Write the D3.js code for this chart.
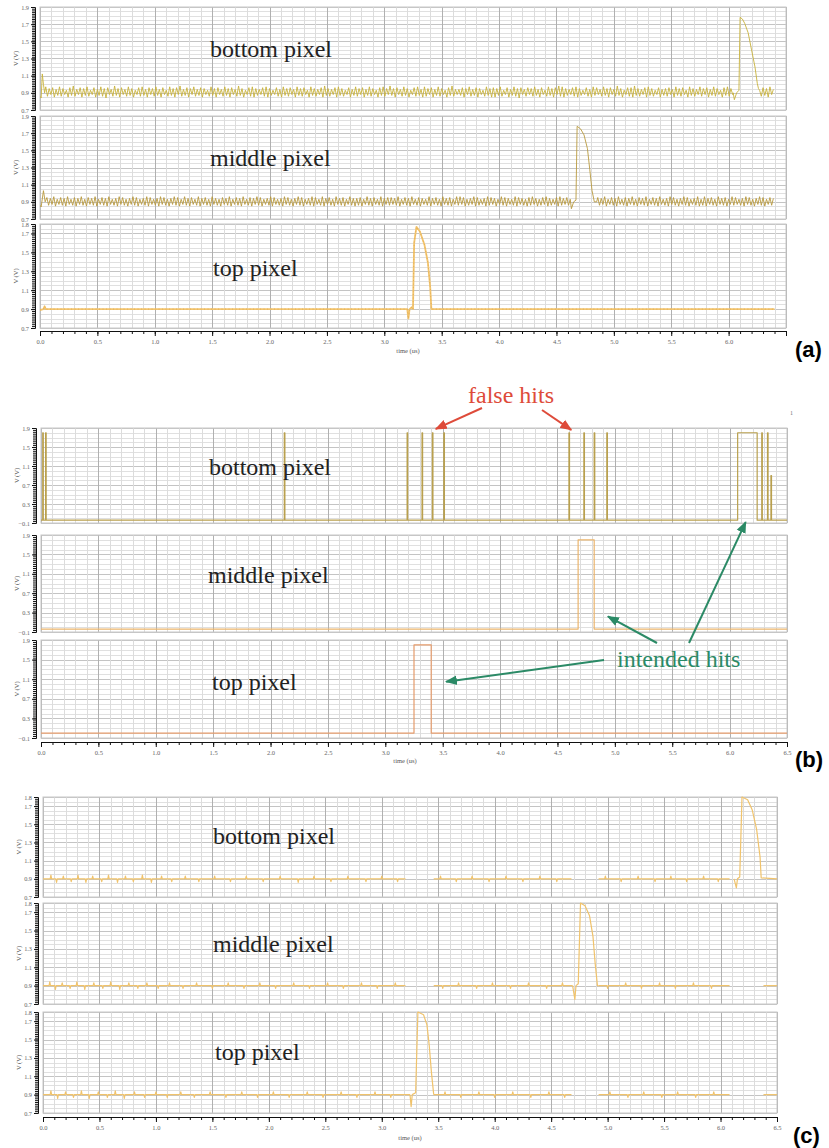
<!DOCTYPE html>
<html>
<head>
<meta charset="utf-8">
<script src="https://cdn.jsdelivr.net/npm/d3@7"></script>
<style>
body { margin: 0; background: #fff; }
svg { display: block; }
.domain { stroke: #111; }
.tick line { stroke: #111; }
</style>
</head>
<body>
<svg id="chart" width="829" height="1148"></svg>
<script>
// ---- data ----
var xTickVals = [0, 0.5, 1, 1.5, 2, 2.5, 3, 3.5, 4, 4.5, 5, 5.5, 6, 6.5];
var xTickLabelsA = ["0.0","0.5","1.0","1.5","2.0","2.5","3.0","3.5","4.0","4.5","5.0","5.5","6.0",""];
var xTickLabels = ["0.0","0.5","1.0","1.5","2.0","2.5","3.0","3.5","4.0","4.5","5.0","5.5","6.0","6.5"];
var yLabels19 = [0.7, 0.9, 1.1, 1.3, 1.5, 1.7, 1.9];
var yLabels18 = [0.7, 0.9, 1.1, 1.3, 1.5, 1.7, 1.8];
var yLabelsB = [-0.1, 0.3, 0.7, 1.1, 1.5, 1.9];
var titles = ["bottom pixel", "middle pixel", "top pixel"];

// (a) bottom pixel: start spike, ringing sampled every 0.015 us from 0.05 us, pulse, tail
var noiseStep = 0.015;
var aBotHead = [[0, 0.86], [0.01, 0.84], [0.02, 1.12], [0.03, 1.0], [0.04, 0.9]];
var aBotNoise = [
  0.97,0.86,0.95,0.88,0.96,0.85,0.94,0.87,0.97,0.86,0.95,0.88,0.93,0.85,0.96,0.87,0.98,0.86,0.94,0.88,
  0.96,0.85,0.95,0.87,0.97,0.86,0.93,0.88,0.96,0.85,0.94,0.87,0.97,0.86,0.95,0.84,0.96,0.88,0.94,0.86,
  0.98,0.87,0.95,0.85,0.96,0.88,0.94,0.86,0.97,0.87,0.95,0.85,0.93,0.88,0.96,0.86,0.97,0.87,0.94,0.85,
  0.96,0.88,0.95,0.86,0.97,0.87,0.94,0.85,0.96,0.88,0.93,0.86,0.97,0.87,0.95,0.85,0.96,0.88,0.98,0.86,
  0.94,0.87,0.96,0.85,0.95,0.88,0.97,0.86,0.94,0.87,0.96,0.85,0.95,0.88,0.93,0.86,0.97,0.87,0.95,0.85,
  0.96,0.88,0.94,0.86,0.97,0.87,0.95,0.85,0.96,0.88,0.94,0.86,0.98,0.87,0.95,0.85,0.93,0.88,0.96,0.86,
  0.97,0.85,0.95,0.87,0.94,0.88,0.96,0.86,0.97,0.85,0.95,0.87,0.93,0.88,0.96,0.86,0.94,0.85,0.97,0.87,
  0.95,0.86,0.96,0.88,0.94,0.85,0.97,0.87,0.95,0.86,0.96,0.88,0.93,0.85,0.97,0.87,0.95,0.86,0.94,0.88,
  0.96,0.85,0.98,0.87,0.95,0.86,0.94,0.88,0.96,0.85,0.97,0.87,0.95,0.86,0.93,0.88,0.96,0.85,0.94,0.87,
  0.97,0.86,0.95,0.88,0.96,0.85,0.94,0.87,0.97,0.86,0.95,0.88,0.93,0.85,0.96,0.87,0.97,0.86,0.95,0.88,
  0.98,0.87,0.95,0.85,0.96,0.88,0.94,0.86,0.97,0.87,0.95,0.85,0.93,0.88,0.96,0.86,0.97,0.87,0.94,0.85,
  0.97,0.86,0.95,0.88,0.96,0.85,0.94,0.87,0.97,0.86,0.95,0.88,0.93,0.85,0.96,0.87,0.98,0.86,0.94,0.88,
  0.94,0.87,0.96,0.85,0.95,0.88,0.97,0.86,0.94,0.87,0.96,0.85,0.95,0.88,0.93,0.86,0.97,0.87,0.95,0.85,
  0.96,0.85,0.95,0.87,0.97,0.86,0.93,0.88,0.96,0.85,0.94,0.87,0.97,0.86,0.95,0.84,0.96,0.88,0.94,0.86,
  0.96,0.88,0.95,0.86,0.97,0.87,0.94,0.85,0.96,0.88,0.93,0.86,0.97,0.87,0.95,0.85,0.96,0.88,0.98,0.86,
  0.97,0.85,0.95,0.87,0.94,0.88,0.96,0.86,0.97,0.85,0.95,0.87,0.93,0.88,0.96,0.86,0.94,0.85,0.97,0.87,
  0.96,0.88,0.94,0.86,0.97,0.87,0.95,0.85,0.96,0.88,0.94,0.86,0.98,0.87,0.95,0.85,0.93,0.88,0.96,0.86,
  0.96,0.85,0.98,0.87,0.95,0.86,0.94,0.88,0.96,0.85,0.97,0.87,0.95,0.86,0.93,0.88,0.96,0.85,0.94,0.87,
  0.95,0.86,0.96,0.88,0.94,0.85,0.97,0.87,0.95,0.86,0.96,0.88,0.93,0.85,0.97,0.87,0.95,0.86,0.94,0.88,
  0.97,0.86,0.95,0.88,0.96,0.85,0.94,0.87,0.97,0.86,0.95,0.88,0.93,0.85,0.96,0.87,0.97,0.86,0.95,0.88
];
var aBotNoiseStart = 0.05;
var aBotPulse = [[6.04, 0.9], [6.05, 0.82], [6.07, 0.9], [6.09, 0.93], [6.10, 1.78], [6.12, 1.76],
  [6.14, 1.71], [6.17, 1.6], [6.20, 1.4], [6.23, 1.2], [6.25, 1.01], [6.26, 0.95]];
var aBotTail = [0.93, 0.86, 0.96, 0.87, 0.95, 0.85, 0.97, 0.88, 0.94];
var aBotTailStart = 6.27;

// (a) middle pixel
var aMidHead = [[0, 0.86], [0.01, 0.84], [0.03, 1.03], [0.045, 0.9]];
var aMidNoise = [
  0.95,0.86,0.94,0.87,0.96,0.85,0.93,0.87,0.95,0.86,0.94,0.85,0.96,0.87,0.93,0.86,0.95,0.85,0.94,0.87,
  0.96,0.86,0.93,0.85,0.95,0.87,0.94,0.86,0.96,0.85,0.93,0.87,0.95,0.86,0.94,0.85,0.96,0.87,0.93,0.86,
  0.94,0.85,0.96,0.87,0.95,0.86,0.93,0.85,0.94,0.87,0.96,0.86,0.95,0.85,0.93,0.87,0.94,0.86,0.96,0.85,
  0.95,0.87,0.93,0.86,0.94,0.85,0.96,0.87,0.95,0.86,0.93,0.85,0.94,0.87,0.96,0.86,0.95,0.85,0.93,0.87,
  0.96,0.86,0.94,0.85,0.95,0.87,0.93,0.86,0.96,0.85,0.94,0.87,0.95,0.86,0.93,0.85,0.96,0.87,0.94,0.86,
  0.93,0.85,0.95,0.87,0.94,0.86,0.96,0.85,0.93,0.87,0.95,0.86,0.94,0.85,0.96,0.87,0.93,0.86,0.95,0.85,
  0.94,0.87,0.96,0.86,0.95,0.85,0.93,0.87,0.94,0.86,0.96,0.85,0.95,0.87,0.93,0.86,0.94,0.85,0.96,0.87,
  0.95,0.86,0.93,0.85,0.94,0.87,0.96,0.86,0.95,0.85,0.93,0.87,0.94,0.86,0.96,0.85,0.95,0.87,0.93,0.86,
  0.96,0.85,0.94,0.87,0.95,0.86,0.93,0.85,0.96,0.87,0.94,0.86,0.95,0.85,0.93,0.87,0.96,0.86,0.94,0.85,
  0.94,0.86,0.95,0.85,0.93,0.87,0.96,0.86,0.94,0.85,0.95,0.87,0.93,0.86,0.96,0.85,0.94,0.87,0.95,0.86,
  0.95,0.87,0.94,0.86,0.96,0.85,0.93,0.87,0.95,0.86,0.94,0.85,0.96,0.87,0.93,0.86,0.95,0.85,0.94,0.87,
  0.93,0.86,0.96,0.85,0.94,0.87,0.95,0.86,0.93,0.85,0.96,0.87,0.94,0.86,0.95,0.85,0.93,0.87,0.96,0.86,
  0.96,0.87,0.95,0.85,0.93,0.86,0.94,0.87,0.96,0.85,0.95,0.86,0.93,0.87,0.94,0.85,0.96,0.86,0.95,0.87,
  0.94,0.85,0.93,0.87,0.96,0.86,0.95,0.85,0.94,0.87,0.93,0.86,0.96,0.85,0.95,0.87,0.94,0.86,0.93,0.85,
  0.95,0.86,0.96,0.87,0.94,0.85,0.93,0.86,0.95,0.87,0.96,0.85,0.94,0.86,0.93,0.87,0.95,0.85,0.96,0.86,
  0.94,0.87,0.95,0.86,0.93
];
var aMidNoiseStart = 0.06;
var aMidPulse = [[4.63, 0.82], [4.65, 0.9], [4.67, 0.92], [4.68, 1.78], [4.71, 1.75], [4.74, 1.68],
  [4.77, 1.52], [4.79, 1.28], [4.81, 1.03], [4.83, 0.9], [4.85, 0.9]];
var aMidTail = [
  0.95,0.86,0.94,0.87,0.96,0.85,0.93,0.87,0.95,0.86,0.94,0.85,0.96,0.87,0.93,0.86,0.95,0.85,0.94,0.87,
  0.96,0.86,0.93,0.85,0.95,0.87,0.94,0.86,0.96,0.85,0.93,0.87,0.95,0.86,0.94,0.85,0.96,0.87,0.93,0.86,
  0.94,0.85,0.96,0.87,0.95,0.86,0.93,0.85,0.94,0.87,0.96,0.86,0.95,0.85,0.93,0.87,0.94,0.86,0.96,0.85,
  0.93,0.86,0.96,0.85,0.94,0.87,0.95,0.86,0.93,0.85,0.96,0.87,0.94,0.86,0.95,0.85,0.93,0.87,0.96,0.86,
  0.95,0.87,0.93,0.86,0.94,0.85,0.96,0.87,0.95,0.86,0.93,0.85,0.94,0.87,0.96,0.86,0.95,0.85,0.93,0.87,
  0.95,0.86,0.94
];
var aMidTailStart = 4.86;

// (a) top pixel
var aTop = [[0, 0.89], [0.03, 0.9], [0.04, 0.93], [0.05, 0.9], [3.20, 0.9], [3.21, 0.8], [3.22, 0.9],
  [3.24, 0.92], [3.25, 0.9], [3.26, 1.6], [3.28, 1.77], [3.31, 1.72], [3.35, 1.58], [3.38, 1.39],
  [3.40, 1.13], [3.41, 0.9], [6.4, 0.9]];

// (b) digital outputs: [rise, fall, level]
var bLow = -0.04;
var bBotPulses = [[0.015, 0.02, 1.8], [0.04, 0.045, 1.8], [2.12, 2.125, 1.8], [3.19, 3.195, 1.8],
  [3.32, 3.325, 1.8], [3.41, 3.415, 1.8], [3.51, 3.515, 1.8], [4.60, 4.605, 1.8], [4.73, 4.735, 1.8],
  [4.82, 4.825, 1.8], [4.93, 4.935, 1.8], [6.07, 6.24, 1.8], [6.28, 6.285, 1.8], [6.33, 6.335, 1.8],
  [6.36, 6.365, 0.9]];
var bMidPulses = [[4.68, 4.82, 1.8]];
var bTopPulses = [[3.25, 3.40, 1.8]];

// (c) baseline segments, glitches [t, v] and pulses
var cBotSegs = [[0, 3.21], [3.46, 4.68], [4.92, 6.08]];
var cMidSegs = [[0, 3.21], [3.46, 4.69], [4.92, 6.08], [6.38, 6.5]];
var cTopSegs = [[0, 3.25], [3.46, 4.68], [4.92, 6.08], [6.38, 6.5]];
var cBotGlitch = [[0.07,0.94],[0.12,0.86],[0.18,0.93],[0.25,0.87],[0.31,0.94],[0.38,0.86],[0.44,0.93],
  [0.52,0.87],[0.58,0.94],[0.66,0.86],[0.73,0.93],[0.80,0.87],[0.88,0.94],[0.96,0.86],[1.05,0.93],
  [1.14,0.87],[1.26,0.93],[1.38,0.87],[1.52,0.93],[1.66,0.87],[1.80,0.93],[1.95,0.87],[2.10,0.93],
  [2.26,0.86],[2.40,0.93],[2.55,0.87],[2.70,0.93],[2.86,0.87],[3.00,0.93],[3.14,0.87],[3.52,0.93],
  [3.66,0.87],[3.80,0.93],[3.95,0.87],[4.10,0.93],[4.25,0.87],[4.40,0.93],[4.55,0.87],[4.98,0.93],
  [5.12,0.87],[5.27,0.93],[5.42,0.87],[5.56,0.93],[5.70,0.87],[5.85,0.93],[5.98,0.87]];
var cMidGlitch = [[0.06,0.94],[0.11,0.86],[0.17,0.93],[0.24,0.87],[0.30,0.94],[0.37,0.86],[0.45,0.93],
  [0.53,0.87],[0.60,0.94],[0.68,0.86],[0.76,0.93],[0.84,0.87],[0.92,0.93],[1.02,0.87],[1.12,0.93],
  [1.24,0.87],[1.36,0.93],[1.50,0.87],[1.64,0.93],[1.78,0.87],[1.92,0.93],[2.06,0.87],[2.22,0.93],
  [2.36,0.87],[2.52,0.93],[2.66,0.87],[2.82,0.93],[2.96,0.87],[3.12,0.93],[3.54,0.87],[3.68,0.93],
  [3.84,0.87],[3.98,0.93],[4.14,0.87],[4.30,0.93],[4.46,0.87],[4.60,0.93],[5.00,0.87],[5.16,0.93],
  [5.30,0.87],[5.46,0.93],[5.60,0.87],[5.76,0.93],[5.92,0.87]];
var cTopGlitch = [[0.07,0.94],[0.13,0.86],[0.20,0.93],[0.27,0.87],[0.34,0.94],[0.41,0.86],[0.49,0.93],
  [0.57,0.87],[0.64,0.94],[0.72,0.86],[0.81,0.93],[0.90,0.87],[1.00,0.93],[1.10,0.87],[1.22,0.93],
  [1.34,0.87],[1.48,0.93],[1.62,0.87],[1.76,0.93],[1.90,0.87],[2.04,0.93],[2.18,0.87],[2.34,0.93],
  [2.48,0.87],[2.64,0.93],[2.78,0.87],[2.94,0.93],[3.08,0.87],[3.56,0.93],[3.70,0.87],[3.86,0.93],
  [4.00,0.87],[4.16,0.93],[4.32,0.87],[4.48,0.93],[4.62,0.87],[5.02,0.93],[5.18,0.87],[5.32,0.93],
  [5.48,0.87],[5.62,0.93],[5.78,0.87],[5.94,0.93]];
var cBotPulse = [[6.12, 0.9], [6.14, 0.80], [6.15, 0.9], [6.17, 0.92], [6.19, 1.8], [6.24, 1.77],
  [6.28, 1.66], [6.32, 1.44], [6.35, 1.14], [6.36, 0.91], [6.5, 0.9]];
var cMidPulse = [[4.69, 0.9], [4.71, 0.75], [4.72, 0.9], [4.74, 0.92], [4.76, 1.8], [4.80, 1.77],
  [4.84, 1.66], [4.87, 1.44], [4.89, 1.14], [4.91, 0.9], [4.92, 0.9]];
var cTopPulse = [[3.25, 0.9], [3.26, 0.77], [3.27, 0.9], [3.30, 0.92], [3.32, 1.8], [3.37, 1.77],
  [3.40, 1.66], [3.42, 1.44], [3.44, 1.14], [3.46, 0.9]];

// ---- build point lists ----
function sampled(start, step, vals) {
  return vals.map(function (v, i) { return [start + i * step, v]; });
}
function steps(pulses, low) {
  var pts = [[0, low]];
  pulses.forEach(function (p) {
    pts.push([p[0], low], [p[0], p[2]], [p[1], p[2]], [p[1], low]);
  });
  pts.push([6.5, low]);
  return pts;
}
function baseline(segs, glitches) {
  return segs.map(function (s) {
    var pts = [[s[0], 0.9]];
    glitches.filter(function (g) { return g[0] > s[0] && g[0] < s[1]; }).forEach(function (g) {
      pts.push([g[0] - 0.006, 0.9], [g[0], g[1]], [g[0] + 0.006, 0.9]);
    });
    pts.push([s[1], 0.9]);
    return pts;
  });
}

var aBotPts = aBotHead.concat(sampled(aBotNoiseStart, noiseStep, aBotNoise), aBotPulse,
  sampled(aBotTailStart, noiseStep, aBotTail));
var aMidPts = aMidHead.concat(sampled(aMidNoiseStart, noiseStep, aMidNoise), aMidPulse,
  sampled(aMidTailStart, noiseStep, aMidTail));

var panels = [
  { tag: "(a)", tagX: 795, tagY: 357, left: 40, right: 786, hStep: 0.05, rStep: 0.02,
    axisY: 331, timeX: 408, timeY: 353, xLabels: xTickLabelsA,
    subs: [
      { top: 7, bottom: 110, domain: [0.7, 1.9], labels: yLabels19, titleX: 210, titleY: 57,
        paths: [aBotPts], color: "#c8b23c", w: 0.9 },
      { top: 116, bottom: 219, domain: [0.7, 1.9], labels: yLabels19, titleX: 210, titleY: 166,
        paths: [aMidPts], color: "#b99a3e", w: 0.9 },
      { top: 224, bottom: 328, domain: [0.7, 1.8], labels: yLabels18, titleX: 213, titleY: 276,
        paths: [aTop], color: "#f2c46e", w: 1.8, dots: true }
    ] },
  { tag: "(b)", tagX: 795, tagY: 767, left: 41, right: 787, hStep: 0.1, rStep: 0.04,
    axisY: 742, timeX: 405, timeY: 763, xLabels: xTickLabels,
    subs: [
      { top: 428, bottom: 523, domain: [-0.1, 1.9], labels: yLabelsB, titleX: 209, titleY: 475,
        paths: [steps(bBotPulses, bLow)], color: "#b9a04e", w: 1.2 },
      { top: 535, bottom: 632, domain: [-0.1, 1.9], labels: yLabelsB, titleX: 208, titleY: 583,
        paths: [steps(bMidPulses, bLow)], color: "#ebb56c", w: 1.2 },
      { top: 640, bottom: 738, domain: [-0.1, 1.9], labels: yLabelsB, titleX: 212, titleY: 690,
        paths: [steps(bTopPulses, 0)], color: "#e59c6c", w: 1.2 }
    ] },
  { tag: "(c)", tagX: 793, tagY: 1143, left: 43, right: 777, hStep: 0.05, rStep: 0.02,
    axisY: 1117, timeX: 410, timeY: 1140, xLabels: xTickLabels,
    subs: [
      { top: 797, bottom: 897, domain: [0.7, 1.8], labels: yLabels18, titleX: 213, titleY: 844,
        paths: baseline(cBotSegs, cBotGlitch).concat([cBotPulse]), color: "#f0c36c", w: 1.2 },
      { top: 903, bottom: 1004, domain: [0.7, 1.8], labels: yLabels18, titleX: 213, titleY: 952,
        paths: baseline(cMidSegs, cMidGlitch).concat([cMidPulse]), color: "#f0c36c", w: 1.2 },
      { top: 1012, bottom: 1113, domain: [0.7, 1.8], labels: yLabels18, titleX: 215, titleY: 1060,
        paths: baseline(cTopSegs, cTopGlitch).concat([cTopPulse]), color: "#f0c36c", w: 1.2 }
    ] }
];

var svg = d3.select("#chart");
var defs = svg.append("defs");
var scalesB = {};

panels.forEach(function (p, pi) {
  var x = d3.scaleLinear().domain([0, 6.5]).range([p.left, p.right]);
  var vx = d3.range(0, 66).map(function (i) { return i / 10; });

  p.subs.forEach(function (s, k) {
    var y = d3.scaleLinear().domain(s.domain).range([s.bottom, s.top]);
    if (pi === 1) scalesB[k] = { x: x, y: y };
    var g = svg.append("g");
    var nH = Math.round((s.domain[1] - s.domain[0]) / p.hStep);
    var hy = d3.range(0, nH + 1).map(function (i) { return s.domain[0] + i * p.hStep; });

    g.append("g").selectAll("line").data(hy).enter().append("line")
      .attr("x1", p.left).attr("x2", p.right)
      .attr("y1", function (d) { return Math.round(y(d)) + 0.5; })
      .attr("y2", function (d) { return Math.round(y(d)) + 0.5; })
      .attr("stroke", function (d) {
        return s.labels.some(function (l) { return Math.abs(l - d) < 1e-6; }) ? "#c4c4c4" : "#e0e0e0";
      });
    g.append("g").selectAll("line").data(vx).enter().append("line")
      .attr("x1", function (d) { return Math.round(x(d)) + 0.5; })
      .attr("x2", function (d) { return Math.round(x(d)) + 0.5; })
      .attr("y1", s.top).attr("y2", s.bottom)
      .attr("stroke", function (d, i) { return i % 5 === 0 ? "#b0b0b0" : "#dcdcdc"; });
    g.append("rect").attr("x", p.left).attr("y", s.top)
      .attr("width", p.right - p.left).attr("height", s.bottom - s.top)
      .attr("fill", "none").attr("stroke", "#c8c8c8");

    // y ruler
    var ax = p.left - 5;
    var nR = Math.round((s.domain[1] - s.domain[0]) / p.rStep);
    var rv = d3.range(0, nR + 1).map(function (i) { return s.domain[0] + i * p.rStep; });
    g.append("g").attr("transform", "translate(" + ax + ",0)")
      .call(d3.axisLeft(y).tickValues(rv).tickSize(3).tickFormat(""));
    g.append("g").attr("transform", "translate(" + ax + ",0)")
      .call(d3.axisLeft(y).tickValues(s.labels).tickSize(4).tickPadding(2)
        .tickFormat(function (d) { return d3.format(".1f")(d); }))
      .call(function (a) {
        a.select(".domain").remove();
        a.selectAll("text").attr("font-size", 6.3).attr("fill", "#666")
          .attr("font-family", "Liberation Serif, serif");
      });
    g.append("text")
      .attr("transform", "translate(" + (ax - 17) + "," + ((s.top + s.bottom) / 2) + ") rotate(-90)")
      .attr("text-anchor", "middle").attr("font-family", "Liberation Serif, serif")
      .attr("font-size", 6.5).attr("fill", "#555").text("V (V)");

    // traces
    var cid = "clip" + pi + k;
    defs.append("clipPath").attr("id", cid).append("rect")
      .attr("x", p.left).attr("y", s.top - 1)
      .attr("width", p.right - p.left).attr("height", s.bottom - s.top + 2);
    var line = d3.line().x(function (d) { return x(d[0]); }).y(function (d) { return y(d[1]); });
    var tg = g.append("g").attr("clip-path", "url(#" + cid + ")");
    tg.selectAll("path.trace").data(s.paths).enter().append("path")
      .attr("class", "trace").attr("d", line)
      .attr("fill", "none").attr("stroke", s.color).attr("stroke-width", s.w)
      .attr("stroke-linejoin", "round");
    if (s.dots) {
      tg.selectAll("path.dots").data(s.paths).enter().append("path")
        .attr("class", "dots").attr("d", line)
        .attr("fill", "none").attr("stroke", "#e0a84e").attr("stroke-width", 0.8)
        .attr("stroke-dasharray", "1,2.5");
    }

    svg.append("text").attr("x", s.titleX).attr("y", s.titleY)
      .attr("font-family", "Liberation Serif, serif").attr("font-size", 24)
      .attr("fill", "#222").text(titles[k]);
  });

  // x axis
  var minor = d3.range(0, 66).map(function (i) { return i / 10; });
  svg.append("g").attr("transform", "translate(0," + p.axisY + ")")
    .call(d3.axisBottom(x).tickValues(minor).tickSize(3).tickFormat(""));
  svg.append("g").attr("transform", "translate(0," + p.axisY + ")")
    .call(d3.axisBottom(x).tickValues(xTickVals).tickSize(5).tickPadding(3)
      .tickFormat(function (d, i) { return p.xLabels[i]; }))
    .call(function (a) {
      a.select(".domain").remove();
      a.selectAll("text").attr("font-size", 6.5).attr("fill", "#666")
        .attr("font-family", "Liberation Serif, serif");
    });
  svg.append("text").attr("x", p.timeX).attr("y", p.timeY).attr("text-anchor", "middle")
    .attr("font-family", "Liberation Serif, serif").attr("font-size", 6.5).attr("fill", "#555")
    .text("time (us)");

  svg.append("text").attr("x", p.tagX).attr("y", p.tagY)
    .attr("font-family", "Liberation Sans, Arial, sans-serif").attr("font-weight", "bold")
    .attr("font-size", 22).attr("fill", "#000").text(p.tag);
});

// ---- annotations on (b) ----
function marker(id, color) {
  defs.append("marker").attr("id", id).attr("viewBox", "0 0 10 10")
    .attr("refX", 9).attr("refY", 5).attr("markerWidth", 6).attr("markerHeight", 6)
    .attr("orient", "auto").append("path").attr("d", "M0,1L10,5L0,9Z").attr("fill", color);
}
var red = "#de4b3a", green = "#2b8a66";
marker("mred", red);
marker("mgreen", green);

var b0 = scalesB[0], b1 = scalesB[1], b2 = scalesB[2];
svg.append("text").attr("x", 511).attr("y", 403).attr("text-anchor", "middle")
  .attr("font-family", "Liberation Serif, serif").attr("font-size", 24).attr("fill", red)
  .text("false hits");
[[482, 408, b0.x(3.44), b0.y(1.88)], [542, 410, b0.x(4.62), b0.y(1.86)]].forEach(function (a) {
  svg.append("line").attr("x1", a[0]).attr("y1", a[1]).attr("x2", a[2]).attr("y2", a[3])
    .attr("stroke", red).attr("stroke-width", 2).attr("marker-end", "url(#mred)");
});

svg.append("text").attr("x", 617).attr("y", 667)
  .attr("font-family", "Liberation Serif, serif").attr("font-size", 24).attr("fill", green)
  .text("intended hits");
[[604, 660, b2.x(3.53), b2.y(1.05)], [657, 643, b1.x(4.94), b1.y(0.22)],
 [689, 643, b0.x(6.14), b0.y(-0.08)]].forEach(function (a) {
  svg.append("line").attr("x1", a[0]).attr("y1", a[1]).attr("x2", a[2]).attr("y2", a[3])
    .attr("stroke", green).attr("stroke-width", 2).attr("marker-end", "url(#mgreen)");
});

svg.append("text").attr("x", 790).attr("y", 415).attr("font-family", "Liberation Serif, serif")
  .attr("font-size", 6).attr("fill", "#777").text("1");
</script>
</body>
</html>
